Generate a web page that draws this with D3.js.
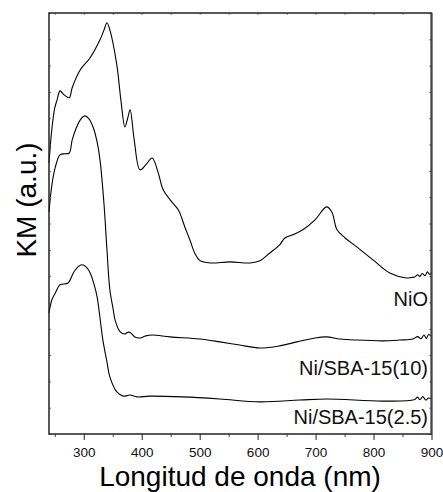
<!DOCTYPE html>
<html>
<head>
<meta charset="utf-8">
<script src="https://cdn.jsdelivr.net/npm/d3@7"></script>
<style>
  body { margin: 0; background: #fff; }
  svg { font-family: "Liberation Sans", Arial, sans-serif; }
</style>
</head>
<body>
<svg width="443" height="492"></svg>
<script>
// wavelength (nm) and KM (a.u.)
const nioNm = [240, 245, 250, 254, 259, 266, 275, 280, 294, 311, 328, 335, 340, 345, 357, 364, 371, 376, 380, 387, 397, 407, 418, 428, 437, 449, 463, 475, 483, 492, 500, 518, 552, 587, 604, 621, 638, 647, 664, 678, 699, 719, 728, 737, 751, 771, 799, 828, 857, 865, 871, 876, 880, 884, 889, 893, 897, 900]
const nioKm = [10.3, 11.6, 12.4, 12.7, 13.04, 12.89, 12.78, 13.16, 13.84, 14.3, 14.98, 15.36, 15.63, 15.36, 14.03, 12.7, 11.67, 12.02, 12.32, 11.18, 10.04, 10.23, 10.49, 9.96, 9.28, 8.9, 8.52, 7.83, 7.38, 6.85, 6.6, 6.5, 6.54, 6.5, 6.58, 6.88, 7.19, 7.45, 7.6, 7.76, 8.14, 8.63, 8.44, 7.76, 7.45, 7.11, 6.62, 6.12, 5.93, 5.95, 5.97, 6.05, 5.99, 6.1, 6.02, 6.16, 6.06, 6.16]

const ni10Nm = [240, 245, 251, 259, 268, 275, 280, 287, 294, 302, 309, 316, 323, 328, 335, 340, 345, 351, 354, 363, 371, 376, 380, 388, 397, 407, 419, 449, 500, 535, 569, 604, 638, 668, 699, 719, 742, 771, 816, 845, 868, 876, 882, 887, 891, 895, 900]
const ni10Km = [8.44, 9.47, 10.15, 10.61, 10.65, 10.68, 11.18, 11.63, 11.94, 12.09, 11.98, 11.67, 11.1, 10.42, 8.71, 7.0, 5.48, 4.71, 4.33, 3.88, 3.8, 3.87, 3.86, 3.69, 3.65, 3.73, 3.76, 3.69, 3.61, 3.5, 3.38, 3.27, 3.35, 3.5, 3.65, 3.69, 3.61, 3.57, 3.54, 3.57, 3.61, 3.7, 3.62, 3.76, 3.63, 3.78, 3.7]

const ni25Nm = [240, 245, 251, 259, 273, 282, 290, 297, 304, 311, 318, 323, 333, 340, 345, 357, 368, 375, 380, 392, 414, 471, 535, 604, 673, 720, 816, 870, 876, 880, 885, 890, 895, 900]
const ni25Km = [4.6, 5.1, 5.36, 5.67, 5.74, 6.12, 6.35, 6.43, 6.35, 6.12, 5.67, 5.21, 3.57, 2.74, 2.17, 1.6, 1.44, 1.46, 1.48, 1.41, 1.44, 1.41, 1.33, 1.22, 1.29, 1.33, 1.25, 1.3, 1.4, 1.3, 1.42, 1.29, 1.37, 1.33]

const seriesNames = ["NiO", "Ni/SBA-15(10)", "Ni/SBA-15(2.5)"]
const labelKm = [4.85, 2.25, 0.38]
const xTicks = [300, 400, 500, 600, 700, 800, 900]

var svg = d3.select("svg")
var padLeft = 49, padRight = 431.5, padTop = 13, padBottom = 434

const x = d3.scaleLinear().domain([240, 900]).range([padLeft, padRight])
const y = d3.scaleLinear().domain([0, 16]).range([padBottom, padTop])

const line = d3.line()
  .x(function (d) { return x(d[0]) })
  .y(function (d) { return y(d[1]) })
  .curve(d3.curveCatmullRom)

const series = [
  d3.zip(nioNm, nioKm),
  d3.zip(ni10Nm, ni10Km),
  d3.zip(ni25Nm, ni25Km)
]

svg.selectAll("path.curve")
  .data(series)
  .join("path")
  .attr("class", "curve")
  .attr("d", line)
  .attr("fill", "none")
  .attr("stroke", "#000")
  .attr("stroke-width", 1.1)

// bottom axis
svg.append("g")
  .attr("transform", "translate(0," + padBottom + ")")
  .call(d3.axisBottom(x).tickValues(xTicks).tickSize(6).tickSizeOuter(0))
  .call(function (g) {
    g.select(".domain").remove()
    g.selectAll("line").attr("stroke", "#222")
    g.selectAll("text").attr("font-size", 13.5).attr("dy", "1.05em").attr("fill", "#111")
  })

// minor bottom ticks
svg.append("g")
  .attr("transform", "translate(0," + padBottom + ")")
  .call(d3.axisBottom(x).tickValues(d3.range(250, 900, 100)).tickSize(3).tickFormat(""))
  .call(function (g) {
    g.select(".domain").remove()
    g.selectAll("line").attr("stroke", "#444")
  })

// top axis small ticks inside
svg.append("g")
  .attr("transform", "translate(0," + padTop + ")")
  .call(d3.axisBottom(x).tickValues(d3.range(250, 900, 50)).tickSize(2).tickFormat(""))
  .call(function (g) {
    g.select(".domain").remove()
    g.selectAll("line").attr("stroke", "#888")
  })

// left and right small ticks inside
svg.append("g")
  .attr("transform", "translate(" + padLeft + ",0)")
  .call(d3.axisRight(y).ticks(16).tickSize(2).tickFormat(""))
  .call(function (g) {
    g.select(".domain").remove()
    g.selectAll("line").attr("stroke", "#777")
  })
svg.append("g")
  .attr("transform", "translate(" + padRight + ",0)")
  .call(d3.axisLeft(y).ticks(16).tickSize(2).tickFormat(""))
  .call(function (g) {
    g.select(".domain").remove()
    g.selectAll("line").attr("stroke", "#333")
  })

// frame
svg.append("rect")
  .attr("x", padLeft).attr("y", padTop)
  .attr("width", padRight - padLeft).attr("height", padBottom - padTop)
  .attr("fill", "none")
  .attr("stroke", "#222")
  .attr("stroke-width", 1.5)

svg.append("line")
  .attr("x1", padRight).attr("x2", padRight).attr("y1", padTop).attr("y2", padBottom)
  .attr("stroke", "#444").attr("stroke-width", 2)

// series labels
svg.selectAll("text.lbl")
  .data(seriesNames)
  .join("text")
  .attr("class", "lbl")
  .attr("x", 428)
  .attr("y", function (d, i) { return y(labelKm[i]) })
  .attr("text-anchor", "end")
  .attr("font-size", 20)
  .attr("fill", "#111")
  .text(function (d) { return d })

// axis titles
svg.append("text")
  .attr("x", 240).attr("y", 486)
  .attr("text-anchor", "middle")
  .attr("font-size", 28)
  .attr("fill", "#000")
  .text("Longitud de onda (nm)")

svg.append("text")
  .attr("transform", "translate(36,200) rotate(-90)")
  .attr("text-anchor", "middle")
  .attr("font-size", 28)
  .attr("fill", "#000")
  .text("KM (a.u.)")
</script>
</body>
</html>
